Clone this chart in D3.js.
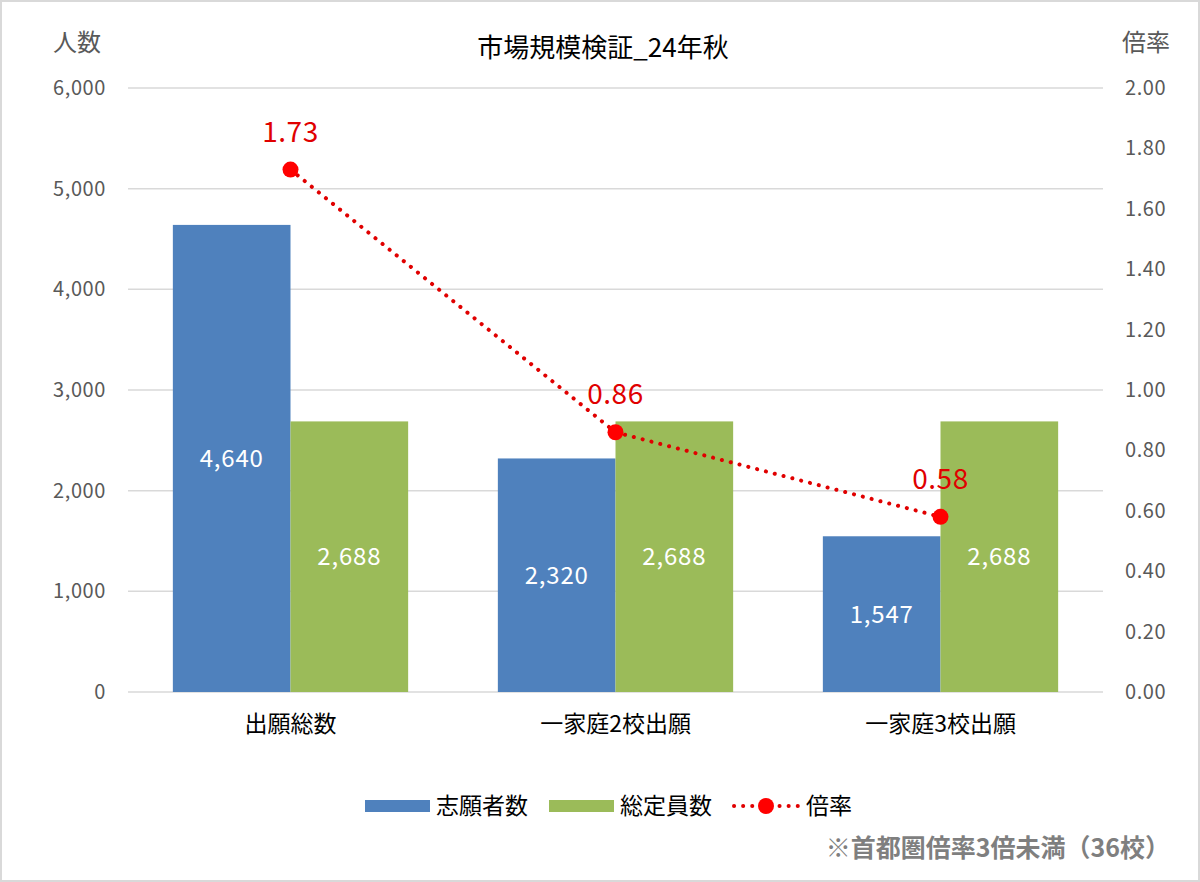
<!DOCTYPE html>
<html>
<head>
<meta charset="utf-8">
<script src="https://cdn.jsdelivr.net/npm/d3@7"></script>
<style>
  body { margin: 0; background: #fff; }
  svg text { font-family: "Noto Sans CJK JP", "Noto Sans", sans-serif; }
</style>
</head>
<body>
<div id="chart"></div>
<script>
var categories = ['出願総数', '一家庭2校出願', '一家庭3校出願'];
var applicants = [4640, 2320, 1547];
var capacity = [2688, 2688, 2688];
var ratio = [1.73, 0.86, 0.58];
var leftTicks = [0, 1000, 2000, 3000, 4000, 5000, 6000];
var rightTicks = [0, 0.2, 0.4, 0.6, 0.8, 1.0, 1.2, 1.4, 1.6, 1.8, 2.0];
var seriesNames = ['志願者数', '総定員数', '倍率'];

var W = 1200, H = 882;
var margin = { top: 88, right: 97, bottom: 190, left: 128 };
var blue = '#4f81bd', green = '#9bbb59', red = '#ff0000', lineRed = '#e00000';

var svg = d3.select('#chart').append('svg')
  .attr('width', W)
  .attr('height', H);

svg.append('rect')
  .attr('x', 1).attr('y', 1)
  .attr('width', W - 2).attr('height', H - 2)
  .attr('fill', '#fff')
  .attr('stroke', '#d9d9d9')
  .attr('stroke-width', 2);

var x = d3.scaleBand()
  .domain(categories)
  .range([margin.left, W - margin.right])
  .paddingInner(0.276)
  .paddingOuter(0.138);

var xSub = d3.scaleBand()
  .domain([0, 1])
  .range([0, x.bandwidth()]);

var y = d3.scaleLinear()
  .domain([0, 6000])
  .range([H - margin.bottom, margin.top]);

var y2 = d3.scaleLinear()
  .domain([0, 2])
  .range([H - margin.bottom, margin.top]);

// gridlines
svg.append('g')
  .selectAll('line')
  .data(leftTicks)
  .enter()
  .append('line')
  .attr('x1', margin.left)
  .attr('x2', W - margin.right)
  .attr('y1', function(d) { return y(d); })
  .attr('y2', function(d) { return y(d); })
  .attr('stroke', '#d9d9d9')
  .attr('stroke-width', 1.5);

// left axis
var leftAxis = svg.append('g')
  .attr('transform', 'translate(' + margin.left + ',0)')
  .call(d3.axisLeft(y).tickValues(leftTicks).tickSize(0).tickPadding(22).tickFormat(d3.format(',')));
leftAxis.select('.domain').remove();
leftAxis.selectAll('text').attr('font-size', 20).attr('letter-spacing', 0.6).attr('fill', '#595959');

// right axis
var rightAxis = svg.append('g')
  .attr('transform', 'translate(' + (W - margin.right) + ',0)')
  .call(d3.axisRight(y2).tickValues(rightTicks).tickSize(0).tickPadding(22).tickFormat(d3.format('.2f')));
rightAxis.select('.domain').remove();
rightAxis.selectAll('text').attr('font-size', 20).attr('letter-spacing', 0.6).attr('fill', '#595959');

// bottom axis labels
var bottomAxis = svg.append('g')
  .attr('transform', 'translate(0,' + (H - margin.bottom) + ')')
  .call(d3.axisBottom(x).tickSize(0).tickPadding(24));
bottomAxis.select('.domain').remove();
bottomAxis.selectAll('text').attr('font-size', 23).attr('fill', '#000');

// bars
var groups = svg.append('g')
  .selectAll('g')
  .data(categories)
  .enter()
  .append('g')
  .attr('transform', function(d) { return 'translate(' + x(d) + ',0)'; });

var barData = function(d, i) {
  return [
    { k: 0, v: applicants[i], c: blue },
    { k: 1, v: capacity[i], c: green }
  ];
};

groups.selectAll('rect')
  .data(barData)
  .enter()
  .append('rect')
  .attr('x', function(d) { return xSub(d.k); })
  .attr('width', xSub.bandwidth())
  .attr('y', function(d) { return y(d.v); })
  .attr('height', function(d) { return y(0) - y(d.v); })
  .attr('fill', function(d) { return d.c; });

groups.selectAll('text')
  .data(barData)
  .enter()
  .append('text')
  .attr('x', function(d) { return xSub(d.k) + xSub.bandwidth() / 2; })
  .attr('y', function(d) { return (y(d.v) + y(0)) / 2; })
  .attr('dy', '0.35em')
  .attr('text-anchor', 'middle')
  .attr('font-size', 24)
  .attr('letter-spacing', 0.8)
  .attr('fill', '#fff')
  .text(function(d) { return d3.format(',')(d.v); });

// ratio line
var cx = function(d, i) { return x(categories[i]) + x.bandwidth() / 2; };

svg.append('path')
  .datum(ratio)
  .attr('d', d3.line().x(cx).y(function(d) { return y2(d); }))
  .attr('fill', 'none')
  .attr('stroke', lineRed)
  .attr('stroke-width', 4)
  .attr('stroke-linecap', 'round')
  .attr('stroke-dasharray', '0.1 9');

svg.append('g')
  .selectAll('circle')
  .data(ratio)
  .enter()
  .append('circle')
  .attr('cx', cx)
  .attr('cy', function(d) { return y2(d); })
  .attr('r', 8)
  .attr('fill', red);

svg.append('g')
  .selectAll('text')
  .data(ratio)
  .enter()
  .append('text')
  .attr('x', cx)
  .attr('y', function(d) { return y2(d) - 28; })
  .attr('text-anchor', 'middle')
  .attr('font-size', 28)
  .attr('letter-spacing', 0.5)
  .attr('fill', '#e00000')
  .text(function(d) { return d3.format('.2f')(d); });

// title and axis titles
svg.append('text')
  .attr('x', 603).attr('y', 57)
  .attr('text-anchor', 'middle')
  .attr('font-size', 26)
  .attr('fill', '#000')
  .text('市場規模検証_24年秋');

svg.append('text')
  .attr('x', 53).attr('y', 51)
  .attr('font-size', 24)
  .attr('fill', '#595959')
  .text('人数');

svg.append('text')
  .attr('x', 1122).attr('y', 51)
  .attr('font-size', 24)
  .attr('fill', '#595959')
  .text('倍率');

// legend
var legend = svg.append('g').attr('transform', 'translate(0,806)');
legend.append('rect').attr('x', 365).attr('y', -6).attr('width', 65).attr('height', 12).attr('fill', blue);
legend.append('text').attr('x', 436).attr('dy', '0.35em').attr('font-size', 23).text(seriesNames[0]);
legend.append('rect').attr('x', 549).attr('y', -6).attr('width', 65).attr('height', 12).attr('fill', green);
legend.append('text').attr('x', 620).attr('dy', '0.35em').attr('font-size', 23).text(seriesNames[1]);
legend.append('line').attr('x1', 734).attr('x2', 800).attr('y1', 0).attr('y2', 0)
  .attr('stroke', lineRed).attr('stroke-width', 4).attr('stroke-linecap', 'round').attr('stroke-dasharray', '0.1 9');
legend.append('circle').attr('cx', 766).attr('cy', 0).attr('r', 8).attr('fill', red);
legend.append('text').attr('x', 806).attr('dy', '0.35em').attr('font-size', 23).text(seriesNames[2]);

// footnote
svg.append('text')
  .attr('x', 1170).attr('y', 857)
  .attr('text-anchor', 'end')
  .attr('font-size', 25)
  .attr('font-weight', 'bold')
  .attr('fill', '#7f7f7f')
  .text('※首都圏倍率3倍未満（36校）');
</script>
</body>
</html>
